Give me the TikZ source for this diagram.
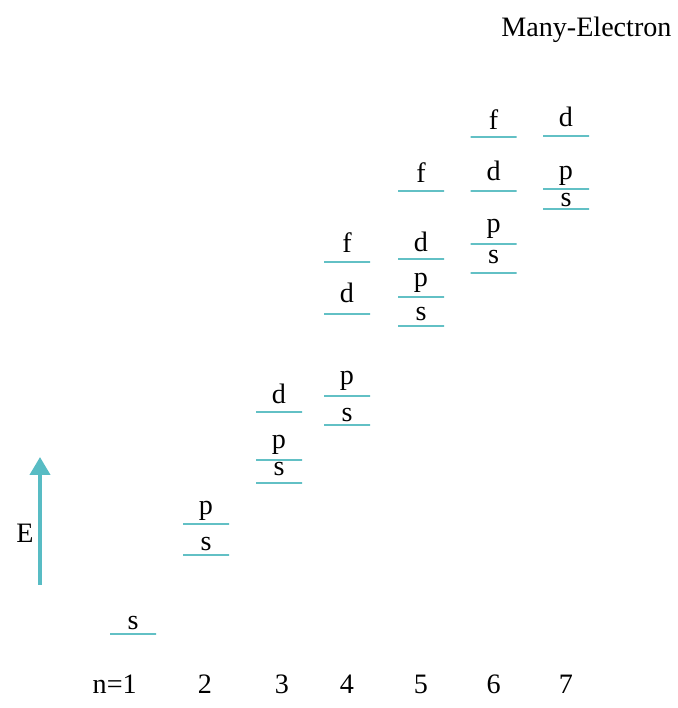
\documentclass[tikz,border=0pt]{standalone}
\usepackage{fontspec}
\setmainfont{Liberation Serif}
\usepackage{tikz}
\usetikzlibrary{arrows.meta,positioning}
\definecolor{shelltint}{RGB}{98,192,197}
\definecolor{arrowtint}{RGB}{88,188,196}

\begin{document}
\begin{tikzpicture}[
        >=Stealth,
        shell/.style={
            draw=shelltint,
            line width=1.2pt,
            inner sep=0pt,
            minimum width=1.15cm,
            minimum height=0pt
        },
        orb/.style={
            font=\fontsize{20}{24}\selectfont,
            inner sep=0pt,
            text depth=0pt
        },
        caption/.style={font=\fontsize{20}{24}\selectfont, inner sep=0pt, anchor=base},
        energy/.style={-{Triangle[width=0.5cm,length=0.45cm]}, line width=0.1cm, draw=arrowtint}
    ]
        \useasboundingbox (0,0) rectangle (16.95,17.7);

        % n = 1
        \node[shell] (n1s) at (3.325,1.85) {};
        \node[orb, above=0.075cm of n1s] (l1s) {s};

        % n = 2
        \node[shell] (n2s) at (5.15,3.825) {};
        \node[shell] (n2p) at (5.15,4.6) {};
        \node[orb, above=0.075cm of n2s] (l2s) {s};
        \node[orb, above=0.2cm of n2p] (l2p) {p};

        % n = 3
        \node[shell] (n3s) at (6.975,5.625) {};
        \node[shell] (n3p) at (6.975,6.2) {};
        \node[shell] (n3d) at (6.975,7.4) {};
        \node[orb, above=0.15cm of n3s] (l3s) {s};
        \node[orb, above=0.25cm of n3p] (l3p) {p};
        \node[orb, above=0.175cm of n3d] (l3d) {d};

        % n = 4
        \node[shell] (n4s) at (8.675,7.075) {};
        \node[shell] (n4p) at (8.675,7.8) {};
        \node[shell] (n4d) at (8.675,9.85) {};
        \node[shell] (n4f) at (8.675,11.15) {};
        \node[orb, above=0.05cm of n4s] (l4s) {s};
        \node[orb, above=0.25cm of n4p] (l4p) {p};
        \node[orb, above=0.25cm of n4d] (l4d) {d};
        \node[orb, above=0.2cm of n4f] (l4f) {f};

        % n = 5
        \node[shell] (n5s) at (10.525,9.55) {};
        \node[shell] (n5p) at (10.525,10.275) {};
        \node[shell] (n5d) at (10.525,11.225) {};
        \node[shell] (n5f) at (10.525,12.925) {};
        \node[orb, above=0.1cm of n5s] (l5s) {s};
        \node[orb, above=0.225cm of n5p] (l5p) {p};
        \node[orb, above=0.15cm of n5d] (l5d) {d};
        \node[orb, above=0.175cm of n5f] (l5f) {f};

        % n = 6
        \node[shell] (n6s) at (12.34,10.875) {};
        \node[shell] (n6p) at (12.34,11.6) {};
        \node[shell] (n6d) at (12.34,12.925) {};
        \node[shell] (n6f) at (12.34,14.275) {};
        \node[orb, above=0.2cm of n6s] (l6s) {s};
        \node[orb, above=0.25cm of n6p] (l6p) {p};
        \node[orb, above=0.225cm of n6d] (l6d) {d};
        \node[orb, above=0.15cm of n6f] (l6f) {f};

        % n = 7
        \node[shell] (n7s) at (14.15,12.475) {};
        \node[shell] (n7p) at (14.15,12.975) {};
        \node[shell] (n7d) at (14.15,14.3) {};
        \node[orb, above=0.025cm of n7s] (l7s) {s};
        \node[orb, above=0.2cm of n7p] (l7p) {p};
        \node[orb, above=0.2cm of n7d] (l7d) {d};

        % energy axis
        \coordinate (ebot) at (1.0,3.075);
        \coordinate (etop) at (1.0,6.275);
        \draw[energy] (ebot) -- (etop);
        \node[caption] (elabel) at (0.625,4.125) {E};

        % shell numbers
        \node[caption, anchor=base east] (q1) at (3.425,0.35) {n=1};
        \node[caption] (q2) at (5.125,0.35) {2};
        \node[caption] (q3) at (7.05,0.35) {3};
        \node[caption] (q4) at (8.675,0.35) {4};
        \node[caption] (q5) at (10.525,0.35) {5};
        \node[caption] (q6) at (12.34,0.35) {6};
        \node[caption] (q7) at (14.15,0.35) {7};

        \node[caption] (title) at (14.66,16.775) {Many-Electron};
    \end{tikzpicture}
\end{document}
